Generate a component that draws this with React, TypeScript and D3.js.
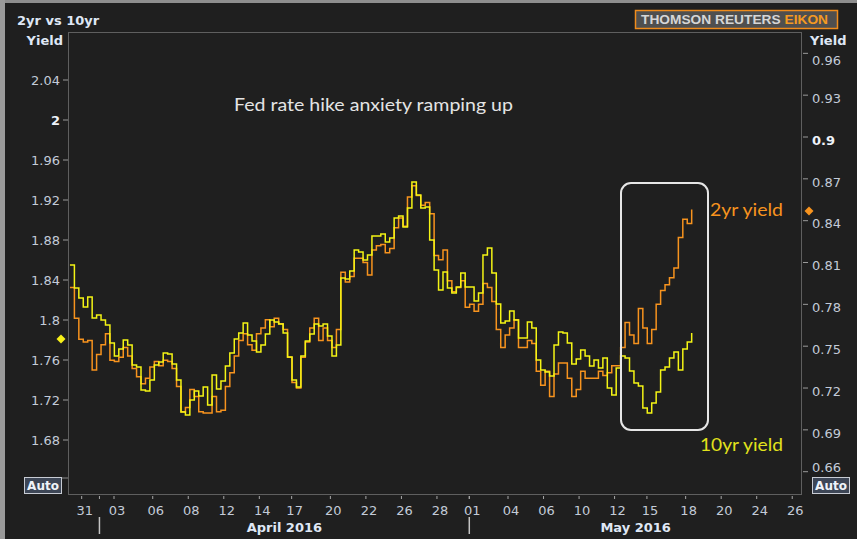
import * as d3 from "d3";

// --- data ---
// trading-day sampled yields, first sample 30 Mar 2016, 4 samples per trading day
const SERIES_START = -0.66; // trading days relative to 31 Mar 2016
const SERIES_STEP = 0.25;

const yield10 = [
  1.855, 1.832, 1.822, 1.813, 1.823, 1.802, 1.805, 1.8, 1.795, 1.777,
  1.764, 1.771, 1.78, 1.775, 1.755, 1.753, 1.73, 1.729, 1.74, 1.755,
  1.758, 1.767, 1.766, 1.756, 1.74, 1.708, 1.705, 1.72, 1.729, 1.724,
  1.733, 1.715, 1.745, 1.731, 1.739, 1.754, 1.767, 1.781, 1.787, 1.797,
  1.785, 1.779, 1.768, 1.775, 1.786, 1.8, 1.798, 1.796, 1.787, 1.763,
  1.74, 1.733, 1.764, 1.779, 1.786, 1.796, 1.794, 1.796, 1.784, 1.764,
  1.775, 1.842, 1.841, 1.849, 1.87, 1.868, 1.86, 1.865, 1.884, 1.884,
  1.886, 1.878, 1.882, 1.902, 1.904, 1.893, 1.912, 1.938, 1.925, 1.912,
  1.913, 1.88, 1.85, 1.83, 1.848, 1.832, 1.827, 1.833, 1.847, 1.833,
  1.833, 1.819, 1.827, 1.865, 1.872, 1.847, 1.816, 1.797, 1.799, 1.809,
  1.8, 1.782, 1.782, 1.798, 1.792, 1.76, 1.75, 1.748, 1.744, 1.775,
  1.788, 1.787, 1.777, 1.756, 1.761, 1.77, 1.764, 1.754, 1.76, 1.752,
  1.762, 1.732, 1.725, 1.752, 1.764, 1.762, 1.749, 1.737, 1.734, 1.712,
  1.707, 1.717, 1.728, 1.75, 1.753, 1.762, 1.768, 1.75, 1.771, 1.778,
  1.787,
];

const yield2 = [
  0.792, 0.77, 0.755, 0.753, 0.754, 0.733, 0.744, 0.751, 0.759, 0.74,
  0.739, 0.742, 0.749, 0.743, 0.734, 0.728, 0.723, 0.727, 0.735, 0.739,
  0.736, 0.74, 0.739, 0.734, 0.721, 0.703, 0.706, 0.719, 0.714, 0.703,
  0.702, 0.702, 0.714, 0.703, 0.704, 0.721, 0.731, 0.743, 0.754, 0.759,
  0.751, 0.747, 0.759, 0.763, 0.769, 0.764, 0.77, 0.766, 0.762, 0.742,
  0.724, 0.72, 0.742, 0.753, 0.763, 0.77, 0.754, 0.763, 0.754, 0.749,
  0.762, 0.803, 0.796, 0.8, 0.813, 0.813, 0.81, 0.801, 0.819, 0.822,
  0.823, 0.817, 0.82, 0.835, 0.842, 0.836, 0.857, 0.865, 0.858, 0.851,
  0.853, 0.845, 0.815, 0.812, 0.819, 0.797, 0.789, 0.792, 0.797, 0.778,
  0.78, 0.775, 0.78, 0.795, 0.792, 0.782, 0.762, 0.749, 0.758, 0.763,
  0.769, 0.749, 0.749, 0.754, 0.752, 0.732, 0.722, 0.732, 0.714, 0.73,
  0.738, 0.738, 0.727, 0.714, 0.719, 0.732, 0.727, 0.727, 0.727, 0.732,
  0.729, 0.731, 0.736, 0.736, 0.749, 0.767, 0.758, 0.752, 0.777, 0.763,
  0.752, 0.762, 0.78, 0.79, 0.794, 0.799, 0.806, 0.828, 0.841, 0.838,
  0.848,
];

// last-value markers on each axis
const last10 = 1.781;
const last2 = 0.847;

const tickDays = [
  "2016-03-31", "2016-04-03", "2016-04-06", "2016-04-08", "2016-04-12",
  "2016-04-14", "2016-04-17", "2016-04-20", "2016-04-22", "2016-04-26",
  "2016-04-28", "2016-05-01", "2016-05-04", "2016-05-06", "2016-05-10",
  "2016-05-12", "2016-05-15", "2016-05-18", "2016-05-20", "2016-05-24",
  "2016-05-26",
];
const monthStarts = ["2016-04-01", "2016-05-01"];
const monthLabels = ["April 2016", "May 2016"];

const leftTicks = [1.68, 1.72, 1.76, 1.8, 1.84, 1.88, 1.92, 1.96, 2, 2.04];
const rightTicks = [0.66, 0.69, 0.72, 0.75, 0.78, 0.81, 0.84, 0.87, 0.9, 0.93, 0.96];

// --- layout ---
const W = 857;
const H = 539;
const left = 68;
const right = 802;
const top = 32;
const bottom = 494;

const BG = "#1f1f1f";
const TXT = "#c3cbd8";
const HEAD = "#dfe7f5";
const ORANGE = "#f7931e";
const YELLOW = "#f4f415";
const FONT = "'DejaVu Sans', Verdana, sans-serif";

// trading-day index: weekdays since 31 Mar 2016, Sunday evening opens just before Monday
function tradingIndex(iso: string) {
  const base = Date.UTC(2016, 2, 31);
  const t = Date.parse(iso + "T00:00:00Z");
  const days = Math.round((t - base) / 864e5);
  let idx = 0;
  for (let k = 0; k < days; k++) {
    const wd = new Date(base + k * 864e5).getUTCDay();
    if (wd >= 1 && wd <= 5) idx++;
  }
  return new Date(t).getUTCDay() === 0 ? idx - 0.18 : idx;
}

export default function App() {
  const x = d3.scaleLinear().domain([-0.77, 40.55]).range([left, right]);
  const yL = d3.scaleLinear().domain([1.626, 2.088]).range([bottom, top]);
  const yR = d3.scaleLinear().domain([0.644, 0.9753]).range([bottom, top]);

  // tick data is stepped, like the terminal draws it
  const line10 = d3
    .line<number>()
    .x((_, i) => x(SERIES_START + i * SERIES_STEP))
    .y((d) => yL(d))
    .curve(d3.curveStepAfter);
  const line2 = d3
    .line<number>()
    .x((_, i) => x(SERIES_START + i * SERIES_STEP))
    .y((d) => yR(d))
    .curve(d3.curveStepAfter);

  const monthX = monthStarts.map((d) => x(tradingIndex(d)));

  const diamond = (cx: number, cy: number, r: number) =>
    `M${cx},${cy - r}L${cx + r},${cy}L${cx},${cy + r}L${cx - r},${cy}Z`;

  return (
    <svg
      width={W}
      height={H}
      style={{ position: "absolute", left: 0, top: 0, background: BG }}
      fontFamily={FONT}
    >
      <rect x={0} y={0} width={W} height={H} fill={BG} />
      {/* window frame */}
      <rect x={0} y={0} width={W} height={3} fill="#8e8e8e" />
      <rect x={0} y={0} width={5} height={H} fill="#9a9a9a" />

      <text x={17} y={25} fontSize={13} fontWeight="bold" fill={HEAD}>
        2yr vs 10yr
      </text>

      {/* logo */}
      <rect x={635.5} y={10.5} width={202} height={18} fill="#4f4f4f" stroke="#f08c1c" strokeWidth={1.5} />
      <text
        x={641}
        y={24}
        fontSize={13}
        fontWeight="bold"
        fontFamily="'Liberation Sans', Arial, sans-serif"
        textLength={187}
        lengthAdjust="spacingAndGlyphs"
      >
        <tspan fill="#d6d6d6">THOMSON REUTERS </tspan>
        <tspan fill="#f59a22">EIKON</tspan>
      </text>

      {/* plot frame */}
      <rect x={left + 0.5} y={top + 0.5} width={right - left - 1} height={bottom - top} fill="none" stroke="#5f5f5f" />

      <text x={63} y={45} fontSize={13} fontWeight="bold" fill={HEAD} textAnchor="end">
        Yield
      </text>
      <text x={810} y={45} fontSize={13} fontWeight="bold" fill={HEAD}>
        Yield
      </text>

      {/* left axis */}
      {leftTicks.map((v) => (
        <g key={"l" + v}>
          <line x1={63} x2={68} y1={yL(v)} y2={yL(v)} stroke="#9a9a9a" />
          <text
            x={60}
            y={yL(v)}
            dy="0.36em"
            fontSize={13}
            textAnchor="end"
            fill={v === 2 ? "#eef2f8" : TXT}
            fontWeight={v === 2 ? "bold" : "normal"}
          >
            {String(v)}
          </text>
        </g>
      ))}

      {/* right axis */}
      {rightTicks.map((v) => (
        <g key={"r" + v}>
          <line x1={803} x2={808} y1={yR(v)} y2={yR(v)} stroke="#9a9a9a" />
          <text
            x={812}
            y={Math.max(60, Math.min(467, yR(v) + 3))}
            dy="0.36em"
            fontSize={13}
            fill={v === 0.9 ? "#eef2f8" : TXT}
            fontWeight={v === 0.9 ? "bold" : "normal"}
          >
            {String(v)}
          </text>
        </g>
      ))}

      {/* bottom axis */}
      {tickDays.map((d) => (
        <g key={d}>
          <line x1={x(tradingIndex(d))} x2={x(tradingIndex(d))} y1={496} y2={499} stroke="#a8a8a8" />
          <text x={x(tradingIndex(d)) + 3} y={515} fontSize={13} textAnchor="middle" fill={TXT}>
            {d.slice(8)}
          </text>
        </g>
      ))}
      {monthX.map((mx, i) => {
        const end = i + 1 < monthX.length ? monthX[i + 1] : right;
        return (
          <g key={monthLabels[i]}>
            <line x1={mx} x2={mx} y1={496} y2={499} stroke="#a8a8a8" />
            <line x1={mx} x2={mx} y1={517} y2={534} stroke="#c4c4c4" strokeWidth={1.5} />
            <text x={(mx + end) / 2} y={532} fontSize={13} fontWeight="bold" textAnchor="middle" fill={HEAD}>
              {monthLabels[i]}
            </text>
          </g>
        );
      })}

      {/* Auto buttons */}
      <line x1={62} x2={68} y1={478} y2={478} stroke="#8a8a8a" />
      <rect x={24.5} y={477.5} width={37} height={16} fill="#3d4656" stroke="#c8ccd4" />
      <text x={43} y={490} fontSize={12} fontWeight="bold" textAnchor="middle" fill="#f0f4fa">
        Auto
      </text>
      <rect x={812.5} y={477.5} width={37} height={16} fill="#3d4656" stroke="#c8ccd4" />
      <text x={831} y={490} fontSize={12} fontWeight="bold" textAnchor="middle" fill="#f0f4fa">
        Auto
      </text>

      {/* series */}
      <path d={line2(yield2) || ""} fill="none" stroke={ORANGE} strokeWidth={1.5} />
      <path d={line10(yield10) || ""} fill="none" stroke={YELLOW} strokeWidth={1.5} />

      {/* last value markers */}
      <path d={diamond(61, yL(last10), 4.5)} fill="#f7f018" />
      <path d={diamond(809, yR(last2), 4.5)} fill="#f7931e" />

      {/* annotations */}
      <text
        x={234}
        y={111}
        fontSize={18}
        fontFamily="Lato, 'Open Sans', sans-serif"
        fill="#e4e4e4"
        textLength={279}
        lengthAdjust="spacingAndGlyphs"
      >
        Fed rate hike anxiety ramping up
      </text>
      <rect x={621} y={183} width={87} height={247} rx={10} fill="none" stroke="#e6e6e6" strokeWidth={2} />
      <text
        x={710}
        y={216}
        fontSize={18}
        fontFamily="Lato, 'Open Sans', sans-serif"
        fill={ORANGE}
        textLength={73}
        lengthAdjust="spacingAndGlyphs"
      >
        2yr yield
      </text>
      <text
        x={700}
        y={451}
        fontSize={18}
        fontFamily="Lato, 'Open Sans', sans-serif"
        fill="#e2e21c"
        textLength={83}
        lengthAdjust="spacingAndGlyphs"
      >
        10yr yield
      </text>
    </svg>
  );
}
